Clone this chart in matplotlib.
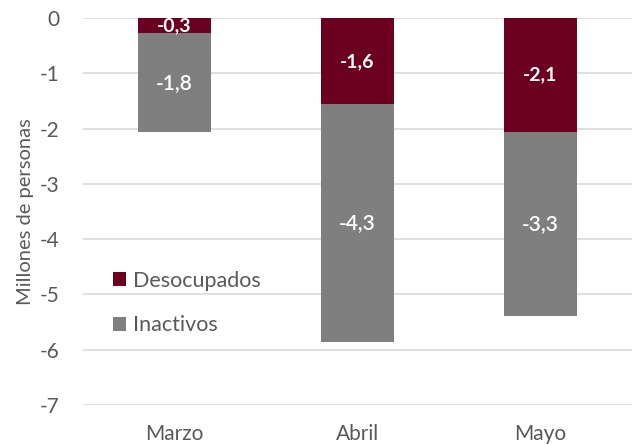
import matplotlib
matplotlib.use("Agg")
import matplotlib.pyplot as plt
import numpy as np

plt.rcParams['font.family'] = ['Lato', 'DejaVu Sans']

meses = ["Marzo", "Abril", "Mayo"]
desocupados = [-0.27, -1.56, -2.06]
inactivos = [-1.79, -4.30, -3.33]
etiq_desoc = ["-0,3", "-1,6", "-2,1"]
etiq_inact = ["-1,8", "-4,3", "-3,3"]

rojo = "#6b0020"
gris = "#7f7f7f"
texto = "#595959"

fig = plt.figure(figsize=(6.32, 4.44), dpi=100)
ax = fig.add_axes([0.131, 0.088, 0.869, 0.871])

x = np.arange(len(meses))
ancho = 0.4
ax.bar(x, desocupados, ancho, color=rojo, label="Desocupados", zorder=3)
ax.bar(x, inactivos, ancho, bottom=desocupados, color=gris, label="Inactivos", zorder=3)

for i in range(len(meses)):
    ax.text(x[i], desocupados[i] / 2, etiq_desoc[i], ha="center", va="center",
            color="white", fontsize=14, fontweight="bold", zorder=4)
    ax.text(x[i], desocupados[i] + inactivos[i] / 2, etiq_inact[i], ha="center", va="center",
            color="white", fontsize=15, fontweight="semibold", zorder=4)

ax.set_xlim(-0.5, 2.5)
ax.set_ylim(-7, 0)
ax.set_yticks(range(-7, 1))
ax.set_yticklabels([str(v) for v in range(-7, 1)])
ax.set_xticks(x)
ax.set_xticklabels(meses)
ax.yaxis.grid(True, color="#d9d9d9", linewidth=1.2, zorder=0)
for s in ax.spines.values():
    s.set_visible(False)
ax.tick_params(length=0, colors=texto, labelsize=15)
ax.tick_params(axis="y", pad=17)
ax.tick_params(axis="x", pad=14)
ax.set_ylabel("Millones de personas", color=texto, fontsize=14.5, labelpad=4)

ax.legend(loc="lower left", bbox_to_anchor=(0.02, 0.13), frameon=False, fontsize=15.5,
          handlelength=0.6, handleheight=0.6, handletextpad=0.3, labelspacing=1.15,
          labelcolor=texto)

fig.savefig("out.png", dpi=100)
